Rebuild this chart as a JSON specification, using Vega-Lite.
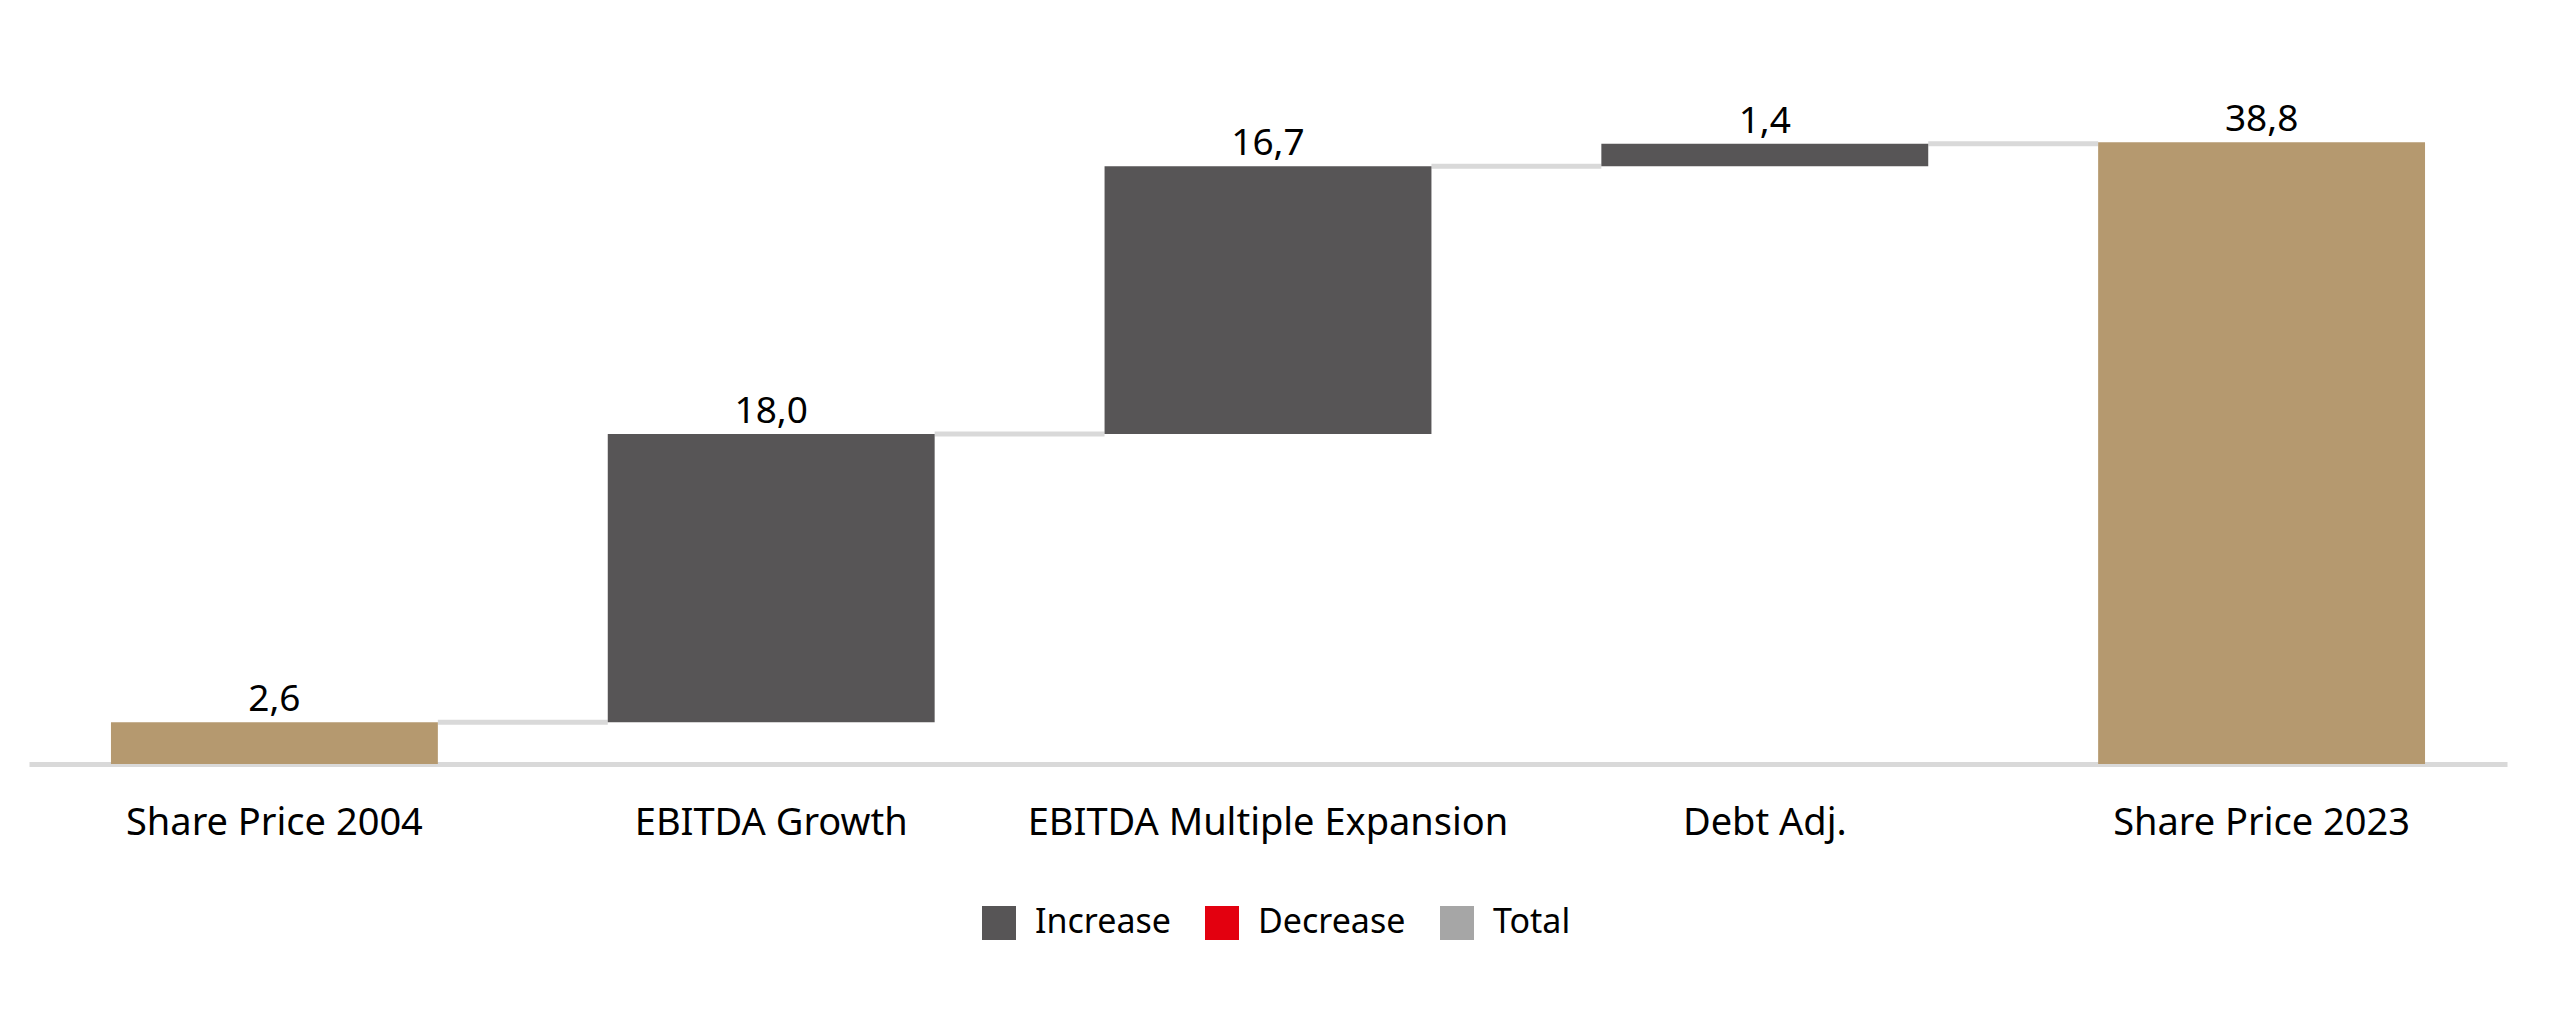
{
  "$schema": "https://vega.github.io/schema/vega-lite/v6.json",
  "autosize": "none",
  "width": 2478,
  "height": 641,
  "padding": {"left": 29, "top": 123, "right": 53, "bottom": 247},
  "background": "white",
  "config": {
    "view": {"stroke": null},
    "font": "Noto Sans",
    "locale": {"number": {"decimal": ",", "thousands": ".", "grouping": [3], "currency": ["", " €"]}}
  },
  "datasets": {
    "steps": [
      {"cat": "Share Price 2004", "start": 0, "end": 2.6, "value": 2.6, "type": "Total", "next": "EBITDA Growth"},
      {"cat": "EBITDA Growth", "start": 2.6, "end": 20.6, "value": 18.0, "type": "Increase", "next": "EBITDA Multiple Expansion"},
      {"cat": "EBITDA Multiple Expansion", "start": 20.6, "end": 37.3, "value": 16.7, "type": "Increase", "next": "Debt Adj."},
      {"cat": "Debt Adj.", "start": 37.3, "end": 38.7, "value": 1.4, "type": "Increase", "next": "Share Price 2023"},
      {"cat": "Share Price 2023", "start": 0, "end": 38.8, "value": 38.8, "type": "Total", "next": null}
    ],
    "legendItems": [
      {"kind": "Increase"},
      {"kind": "Decrease"},
      {"kind": "Total"}
    ]
  },
  "encoding": {
    "x": {
      "field": "cat",
      "type": "nominal",
      "sort": null,
      "scale": {"paddingInner": 0.342, "paddingOuter": 0.165},
      "axis": {
        "title": null,
        "labelAngle": 0,
        "labelFontSize": 38,
        "labelColor": "#000000",
        "labelPadding": 40,
        "labelLimit": 0,
        "ticks": false,
        "domainColor": "#d9d9d9",
        "domainWidth": 5,
        "labelFont": "Noto Sans"
      }
    }
  },
  "layer": [
    {
      "data": {"name": "steps"},
      "transform": [{"filter": "datum.next != null"}],
      "mark": {"type": "rule", "color": "#d9d9d9", "strokeWidth": 5},
      "encoding": {
        "x": {"field": "cat", "type": "nominal", "sort": null, "bandPosition": 1},
        "x2": {"field": "next", "bandPosition": 0},
        "y": {"field": "end", "type": "quantitative", "scale": {"domain": [0, 40], "nice": false}, "axis": null}
      }
    },
    {
      "data": {"name": "steps"},
      "mark": {"type": "bar"},
      "encoding": {
        "y": {"field": "start", "type": "quantitative", "scale": {"domain": [0, 40], "nice": false}, "axis": null},
        "y2": {"field": "end"},
        "fill": {
          "field": "type",
          "type": "nominal",
          "scale": {"domain": ["Increase", "Total"], "range": ["#575556", "#b5996f"]},
          "legend": null
        }
      }
    },
    {
      "data": {"name": "steps"},
      "mark": {"type": "text", "fontSize": 37, "color": "#000000", "baseline": "alphabetic", "dy": -11, "font": "Noto Sans"},
      "encoding": {
        "y": {"field": "end", "type": "quantitative"},
        "text": {"field": "value", "type": "quantitative", "format": ".1f"}
      }
    },
    {
      "data": {"name": "legendItems"},
      "mark": {"type": "square", "opacity": 0, "size": 1},
      "encoding": {
        "x": {"value": 0},
        "y": {"value": 0},
        "color": {
          "field": "kind",
          "type": "nominal",
          "sort": null,
          "scale": {"domain": ["Increase", "Decrease", "Total"], "range": ["#575556", "#e3000f", "#a6a6a6"]},
          "legend": {
            "title": null,
            "orient": "none",
            "direction": "horizontal",
            "legendX": 953,
            "legendY": 783,
            "symbolType": "square",
            "symbolSize": 1156,
            "symbolOpacity": 1,
            "symbolStrokeWidth": 0,
            "labelFontSize": 34,
            "labelFont": "Noto Sans",
            "labelColor": "#000000",
            "labelOffset": 19,
            "columnPadding": 34,
            "padding": 0
          }
        }
      }
    }
  ]
}
